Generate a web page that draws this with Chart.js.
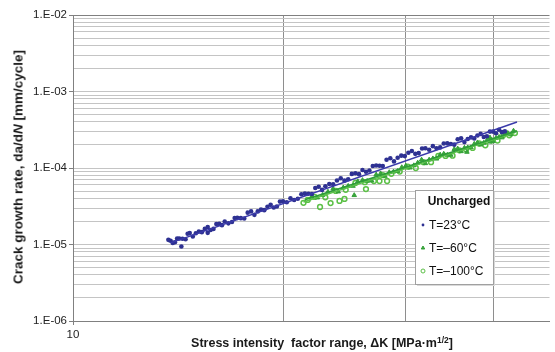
<!DOCTYPE html>
<html>
<head>
<meta charset="utf-8">
<script src="https://cdn.jsdelivr.net/npm/chart.js@4.4.0/dist/chart.umd.min.js"></script>
<style>
  html, body { margin: 0; padding: 0; background: #fff; }
  #wrap { position: relative; width: 555px; height: 352px; }
  .axisTitle { position: absolute; white-space: nowrap; font-family: "Liberation Sans", Arial, sans-serif; font-weight: bold; color: #1a1a1a; }
  #yTitle { left: 18px; top: 167px; font-size: 13.5px; transform: translate(-50%, -50%) rotate(-90deg); }
  #xTitle { left: 322px; top: 343px; font-size: 12.5px; transform: translate(-50%, -50%); }
  #xTitle sup { font-size: 8.5px; line-height: 0; vertical-align: 4px; }
</style>
</head>
<body>
<div id="wrap">
  <canvas id="fcgChart" width="555" height="352"></canvas>
  <div id="yTitle" class="axisTitle">Crack growth rate, da/d<i>N</i> [mm/cycle]</div>
  <div id="xTitle" class="axisTitle">Stress intensity&nbsp; factor range, ΔK [MPa·m<sup>1/2</sup>]</div>
</div>
<script>
// 坐标轴刻度
const xGridValues = [10, 20, 30, 40];
const xTickLabels = ['10', '', '', ''];
const yDecades = [1e-6, 1e-5, 1e-4, 1e-3, 1e-2];
const yTickLabels = ['1.E-06', '1.E-05', '1.E-04', '1.E-03', '1.E-02'];
const minorSteps = [1, 2, 3, 4, 5, 6, 7, 8, 9];

// T=23°C
const k23 = [13.8, 14.0, 14.2, 14.5, 14.7, 15.0, 15.3, 15.6, 15.9, 16.2, 16.5, 16.9, 17.2, 17.6, 18.0, 18.4, 18.8, 19.2, 19.6, 20.0,
  20.5, 21.0, 21.5, 22.0, 22.5, 23.0, 23.6, 24.2, 24.8, 25.4, 26.0, 26.6, 27.2, 27.8, 28.5, 29.2, 29.9, 30.6, 31.3, 32.0,
  32.8, 33.6, 34.4, 35.2, 36.0, 36.8, 37.6, 38.4, 39.2, 40.0, 40.8, 41.6,
  13.9, 14.1, 14.35, 14.6, 14.85, 15.15, 15.45, 15.75, 16.05, 16.35, 16.7, 17.05, 17.4, 17.8, 18.2, 18.6, 19.0, 19.4, 19.8, 20.25,
  20.75, 21.25, 21.75, 22.25, 22.75, 23.3, 23.9, 24.5, 25.1, 25.7, 26.3, 26.9, 27.5, 28.15, 28.85, 29.55, 30.25, 30.95, 31.65, 32.4,
  33.2, 34.0, 34.8, 35.6, 36.4, 37.2, 38.0, 38.8, 39.6, 40.4, 41.2,
  13.7, 14.3, 15.6];
const rate23 = [1.12e-5, 1.07e-5, 1.20e-5, 1.17e-5, 1.41e-5, 1.40e-5, 1.45e-5, 1.69e-5, 1.60e-5, 1.86e-5, 2.00e-5, 1.97e-5, 2.23e-5, 2.19e-5, 2.71e-5, 2.71e-5, 2.81e-5, 3.30e-5, 3.14e-5, 3.67e-5,
  4.03e-5, 3.97e-5, 4.62e-5, 4.58e-5, 5.70e-5, 5.77e-5, 6.11e-5, 7.33e-5, 7.14e-5, 8.53e-5, 9.40e-5, 9.29e-5, 1.08e-4, 1.06e-4, 1.34e-4, 1.36e-4, 1.43e-4, 1.67e-4, 1.57e-4, 1.81e-4,
  1.93e-4, 1.86e-4, 2.10e-4, 2.02e-4, 2.44e-4, 2.39e-4, 2.43e-4, 2.79e-4, 2.60e-4, 2.99e-4, 3.16e-4, 3.01e-4,
  1.05e-5, 1.20e-5, 1.19e-5, 1.38e-5, 1.27e-5, 1.48e-5, 1.60e-5, 1.55e-5, 1.85e-5, 1.79e-5, 1.89e-5, 2.22e-5, 2.21e-5, 2.61e-5, 2.44e-5, 2.87e-5, 3.12e-5, 3.04e-5, 3.64e-5, 3.57e-5,
  3.82e-5, 4.54e-5, 4.60e-5, 5.48e-5, 5.17e-5, 6.18e-5, 6.85e-5, 6.83e-5, 8.37e-5, 8.31e-5, 8.92e-5, 1.06e-4, 1.07e-4, 1.28e-4, 1.22e-4, 1.45e-4, 1.58e-4, 1.53e-4, 1.80e-4, 1.73e-4,
  1.81e-4, 2.09e-4, 2.06e-4, 2.38e-4, 2.18e-4, 2.51e-4, 2.66e-4, 2.54e-4, 2.99e-4, 2.85e-4, 2.94e-4,
  1.15e-5, 9.4e-6, 1.42e-5];

// T=-60°C
const k60 = [22.0, 22.8, 23.6, 24.4, 25.2, 26.0, 26.8, 27.6, 28.4, 29.2, 30.0, 30.8, 31.6, 32.4, 33.2, 34.0, 34.8, 35.6, 36.4, 37.2,
  38.0, 38.8, 39.6, 40.4, 41.2, 42.0, 42.8,
  22.4, 23.2, 24.0, 24.8, 25.6, 26.4, 27.2, 28.0, 28.8, 29.6, 30.4, 31.2, 32.0, 32.8, 33.6, 34.4, 35.2, 36.0, 36.8, 37.6,
  38.4, 39.2, 40.0, 40.8, 41.6, 42.4,
  25.3, 36.7, 39.6];
const rate60 = [4.27e-5, 4.43e-5, 5.37e-5, 5.53e-5, 5.82e-5, 6.92e-5, 6.82e-5, 8.45e-5, 8.77e-5, 9.10e-5, 1.07e-4, 1.08e-4, 1.28e-4, 1.28e-4, 1.32e-4, 1.53e-4, 1.48e-4, 1.79e-4, 1.83e-4, 1.86e-4,
  2.15e-4, 2.13e-4, 2.49e-4, 2.47e-4, 2.50e-4, 2.86e-4, 3.06e-4,
  4.10e-5, 4.88e-5, 4.91e-5, 5.81e-5, 6.68e-5, 6.75e-5, 8.18e-5, 7.85e-5, 8.93e-5, 1.02e-4, 1.01e-4, 1.17e-4, 1.15e-4, 1.33e-4, 1.49e-4, 1.48e-4, 1.76e-4, 1.65e-4, 1.85e-4, 2.06e-4,
  2.02e-4, 2.30e-4, 2.23e-4, 2.54e-4, 2.81e-4, 2.74e-4,
  4.4e-5, 1.62e-4, 2.2e-4];

// T=-100°C
const k100 = [21.4, 22.2, 23.0, 23.8, 24.6, 25.4, 26.2, 27.0, 27.8, 28.6, 29.4, 30.2, 31.0, 31.8, 32.6, 33.4, 34.2, 35.0, 35.8, 36.6,
  37.4, 38.2, 39.0, 39.8, 40.6, 41.4, 42.2, 43.0,
  21.7, 22.6, 23.4, 24.1, 24.5, 26.3, 27.5, 28.2];
const rate100 = [3.51e-5, 4.19e-5, 4.14e-5, 5.02e-5, 5.18e-5, 6.38e-5, 6.53e-5, 6.75e-5, 8.05e-5, 8.38e-5, 8.97e-5, 1.04e-4, 1.00e-4, 1.19e-4, 1.19e-4, 1.44e-4, 1.44e-4, 1.45e-4, 1.70e-4, 1.74e-4,
  1.83e-4, 2.09e-4, 1.98e-4, 2.30e-4, 2.28e-4, 2.71e-4, 2.67e-4, 2.86e-4,
  3.82e-5, 3.09e-5, 3.48e-5, 3.71e-5, 3.94e-5, 5.31e-5, 6.76e-5, 6.76e-5];

// 拟合直线 (端点)
const fitK23 = [13.8, 43.3];
const fitRate23 = [1.05e-5, 4.0e-4];
const fitK60 = [21.5, 43.3];
const fitRate60 = [3.85e-5, 3.05e-4];
const fitK100 = [21.4, 43.0];
const fitRate100 = [3.6e-5, 2.9e-4];

const legendTitle = 'Uncharged';
const seriesNames = ['T=23°C', 'T=\u201360°C', 'T=\u2013100°C'];

const FONT = '"Liberation Sans", Arial, sans-serif';

function toPoints(xs, ys) {
    return xs.map((x, i) => ({ x: x, y: ys[i] }));
}

function isDecade(v) {
    const e = Math.log10(v);
    return Math.abs(e - Math.round(e)) < 1e-9;
}

// 图例框
const legendBox = {
    id: 'legendBox',
    afterDatasetsDraw(chart) {
        const ctx = chart.ctx;
        const x = 415, y = 190, w = 78, h = 94;
        ctx.save();
        ctx.fillStyle = '#d9d9d9';
        ctx.fillRect(x + 2, y + 2, w, h);
        ctx.fillStyle = '#ffffff';
        ctx.fillRect(x, y, w, h);
        ctx.strokeStyle = '#a0a0a0';
        ctx.lineWidth = 1;
        ctx.strokeRect(x + 0.5, y + 0.5, w, h);

        ctx.fillStyle = '#111';
        ctx.textBaseline = 'middle';
        ctx.textAlign = 'center';
        ctx.font = 'bold 12px ' + FONT;
        ctx.fillText(legendTitle, x + 44, y + 12);

        ctx.textAlign = 'left';
        ctx.font = '12px ' + FONT;
        const rowY = [y + 35, y + 58, y + 81];
        [3, 4, 5].forEach((di, i) => {
            const ds = chart.data.datasets[di];
            ctx.fillStyle = ds.backgroundColor;
            ctx.strokeStyle = ds.borderColor;
            ctx.lineWidth = 1;
            Chart.helpers.drawPoint(ctx, {
                pointStyle: ds.pointStyle,
                radius: di === 3 ? 1.4 : 2,
                rotation: 0,
                borderWidth: di === 3 ? 0 : 1
            }, x + 8, rowY[i]);
            ctx.fillStyle = '#111';
            ctx.fillText(seriesNames[i], x + 14, rowY[i] + 1);
        });
        ctx.restore();
    }
};

function createChart() {
    const ctx = document.getElementById('fcgChart').getContext('2d');

    new Chart(ctx, {
        type: 'scatter',
        data: {
            datasets: [{
                label: 'fit 23',
                data: toPoints(fitK23, fitRate23),
                showLine: true,
                borderColor: '#3a3aaa',
                borderWidth: 1.5,
                pointRadius: 0
            }, {
                label: 'fit -60',
                data: toPoints(fitK60, fitRate60),
                showLine: true,
                borderColor: '#2f9c3a',
                borderWidth: 1.5,
                pointRadius: 0
            }, {
                label: 'fit -100',
                data: toPoints(fitK100, fitRate100),
                showLine: true,
                borderColor: '#5cc24a',
                borderWidth: 1.5,
                pointRadius: 0
            }, {
                label: seriesNames[0],
                data: toPoints(k23, rate23),
                pointStyle: 'circle',
                pointRadius: 2.3,
                backgroundColor: '#2e3192',
                borderColor: '#2e3192',
                borderWidth: 0
            }, {
                label: seriesNames[1],
                data: toPoints(k60, rate60),
                pointStyle: 'triangle',
                pointRadius: 2.6,
                backgroundColor: '#3aa63a',
                borderColor: '#34a038',
                borderWidth: 1
            }, {
                label: seriesNames[2],
                data: toPoints(k100, rate100),
                pointStyle: 'circle',
                pointRadius: 2.4,
                backgroundColor: 'rgba(255,255,255,0)',
                borderColor: '#5cc047',
                borderWidth: 1.5
            }]
        },
        options: {
            responsive: false,
            animation: false,
            layout: { padding: { top: 15, right: 0, bottom: 0, left: 0 } },
            plugins: {
                legend: { display: false },
                tooltip: { enabled: false }
            },
            scales: {
                x: {
                    type: 'logarithmic',
                    min: 10,
                    max: 48.2,
                    afterBuildTicks: (scale) => {
                        scale.ticks = xGridValues.map(v => ({ value: v }));
                    },
                    afterFit: (scale) => { scale.height = 31; },
                    ticks: {
                        autoSkip: false,
                        maxRotation: 0,
                        padding: 3,
                        color: '#222',
                        font: { family: FONT, size: 11.5 },
                        callback: (value, index) => xTickLabels[index]
                    },
                    grid: {
                        color: c => (c.tick && c.tick.value === 10) ? 'rgba(0,0,0,0)' : '#8e8e8e',
                        tickColor: c => (c.tick && c.tick.value === 10) ? '#808080' : 'rgba(0,0,0,0)',
                        tickLength: 4
                    },
                    border: { color: '#808080', width: 1 }
                },
                y: {
                    type: 'logarithmic',
                    min: 1e-6,
                    max: 1e-2,
                    afterBuildTicks: (scale) => {
                        const ticks = [];
                        yDecades.slice(0, -1).forEach(d => {
                            minorSteps.forEach(m => ticks.push({ value: d * m }));
                        });
                        ticks.push({ value: yDecades[yDecades.length - 1] });
                        scale.ticks = ticks;
                    },
                    afterFit: (scale) => { scale.width = 73; },
                    ticks: {
                        autoSkip: false,
                        padding: 2,
                        color: '#222',
                        font: { family: FONT, size: 11.5 },
                        callback: (value) => {
                            if (!isDecade(value)) return '';
                            const i = yDecades.findIndex(d => Math.abs(Math.log10(d) - Math.log10(value)) < 1e-9);
                            return yTickLabels[i];
                        }
                    },
                    grid: {
                        color: c => {
                            if (!c.tick) return '#c4c4c4';
                            if (Math.abs(c.tick.value - 1e-2) < 1e-12) return '#808080';
                            return '#c4c4c4';
                        },
                        tickColor: c => (c.tick && isDecade(c.tick.value)) ? '#808080' : 'rgba(0,0,0,0)',
                        tickLength: 4
                    },
                    border: { color: '#808080', width: 1 }
                }
            }
        },
        plugins: [legendBox]
    });
}

document.addEventListener('DOMContentLoaded', () => {
    createChart();
});
</script>
</body>
</html>
